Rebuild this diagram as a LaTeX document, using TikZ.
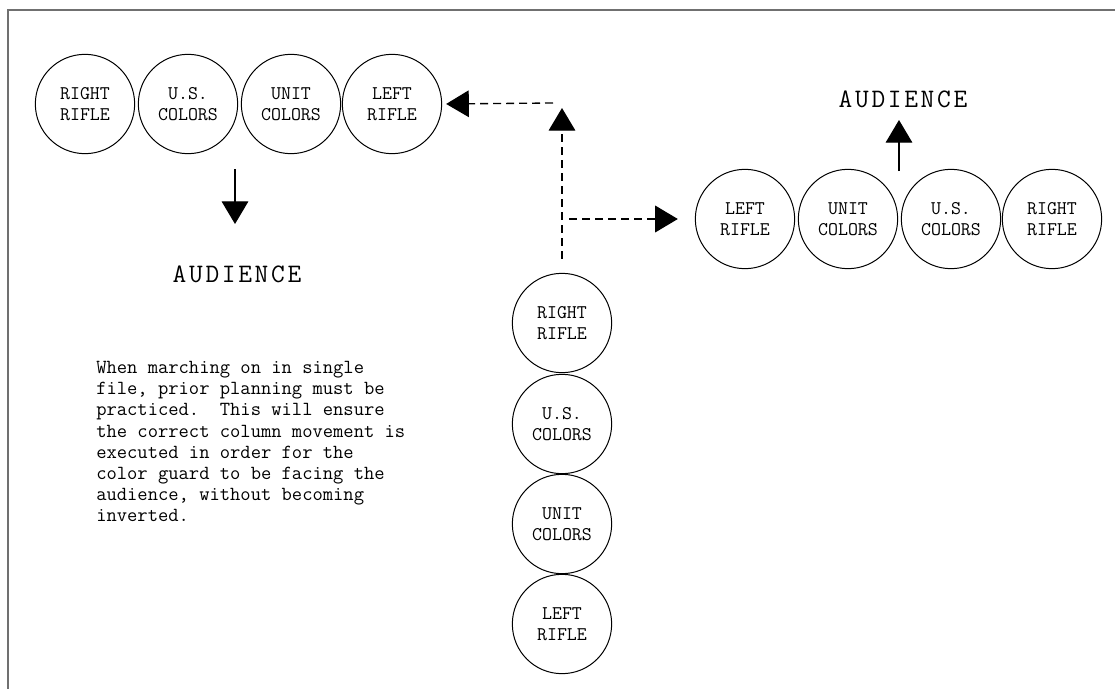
\documentclass[tikz,border=0pt]{standalone}
\usepackage{fontspec}
\usetikzlibrary{arrows.meta}
\setmonofont{Latin Modern Mono}
\newfontfamily\audfont[LetterSpace=10]{Latin Modern Mono}
\definecolor{framegray}{HTML}{707070}
\tikzset{
  member/.style={circle, draw=black, line width=0.75pt, minimum size=74.5pt, inner sep=0pt,
    align=center, font=\ttfamily\fontsize{14.5}{15.75}\selectfont},
  audlabel/.style={inner sep=0pt, font=\audfont\fontsize{20}{22}\selectfont},
  facing/.style={line width=0.8pt, -{Triangle[length=17pt,width=20pt]}},
  movepath/.style={line width=1pt, dash pattern=on 6pt off 3.75pt, -{Triangle[length=17pt,width=20pt]}},
}
\begin{document}
\begin{tikzpicture}[x=0.75pt,y=-0.75pt]
\useasboundingbox (0,0) rectangle (1115,689);
\draw[framegray, line width=1.4pt] (8,689) -- (8,10) -- (1115,10);

% top-left row
\node[member] (t1) at (85,104) {RIGHT\\RIFLE};
\node[member] (t2) at (188,104) {U.S.\\COLORS};
\node[member] (t3) at (291,104) {UNIT\\COLORS};
\node[member] (t4) at (392,104) {LEFT\\RIFLE};

% right row
\node[member] (r1) at (745,219) {LEFT\\RIFLE};
\node[member] (r2) at (848,219) {UNIT\\COLORS};
\node[member] (r3) at (951,219) {U.S.\\COLORS};
\node[member] (r4) at (1052,219) {RIGHT\\RIFLE};

% column
\node[member] (c1) at (562,323) {RIGHT\\RIFLE};
\node[member] (c2) at (562,424) {U.S.\\COLORS};
\node[member] (c3) at (562,524) {UNIT\\COLORS};
\node[member] (c4) at (562,624) {LEFT\\RIFLE};

% audience labels
\node[audlabel] (aud1) at (237,274) {AUDIENCE};
\node[audlabel] (aud2) at (903,99) {AUDIENCE};

% facing arrows
\coordinate (downstart) at (235,169);
\coordinate (downend) at (235,224);
\draw[facing] (downstart) -- (downend);
\coordinate (upstart) at (899,171);
\coordinate (upend) at (899,120);
\draw[facing] (upstart) -- (upend);

% movement paths
\coordinate (vtop) at (562,108);
\coordinate (corner) at (553,103);
\coordinate (branch) at (569,219);
\draw[movepath, shorten <=10.5pt] (c1.north) -- (vtop);
\draw[movepath, shorten >=3pt] (corner) -- (t4.east);
\draw[movepath, shorten >=12.75pt] (branch) -- (r1.west);

% note
\node[anchor=north west, inner sep=0pt, align=left,
      font=\ttfamily\fontsize{15}{15.9}\selectfont\frenchspacing] (note) at (96,361)
  {When marching on in single\\
   file, prior planning must be\\
   practiced.\ \ This will ensure\\
   the correct column movement is\\
   executed in order for the\\
   color guard to be facing the\\
   audience, without becoming\\
   inverted.};
\end{tikzpicture}
\end{document}
